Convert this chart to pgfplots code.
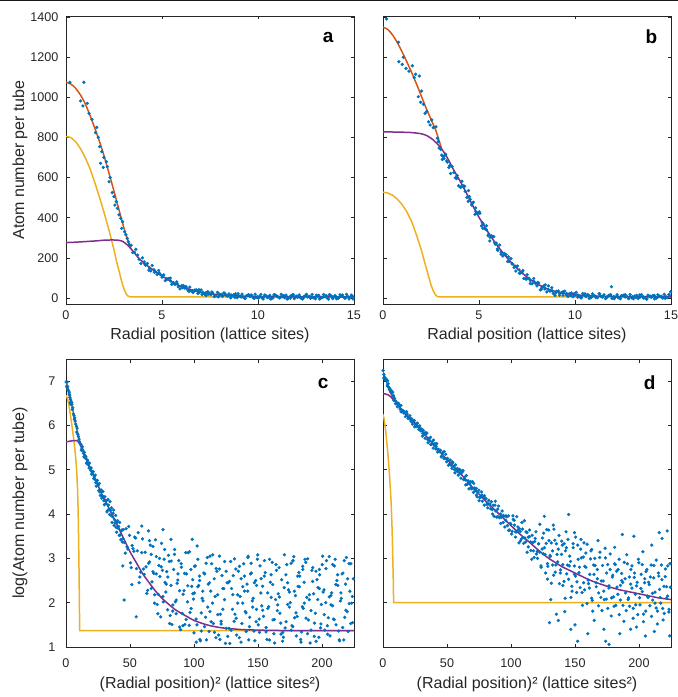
\documentclass[border=0pt]{standalone}
\usepackage{fontspec}
\setmainfont{Liberation Sans}
\usepackage{pgfplots}
\pgfplotsset{compat=1.18}
\definecolor{mblue}{RGB}{0,114,189}
\definecolor{mred}{RGB}{217,83,25}
\definecolor{myel}{RGB}{237,177,32}
\definecolor{mpur}{RGB}{126,47,142}
\definecolor{axg}{RGB}{38,38,38}
\tikzset{letter/.style={font=\fontsize{19}{22}\selectfont\bfseries, text=black}}
\pgfplotsset{
  panel/.style={scale only axis, width=288pt, height=288pt, anchor=south west,
    axis line style={axg, line width=0.7pt},
    every tick/.style={axg, line width=0.6pt},
    tick align=inside, major tick length=3.5pt,
    tick label style={font=\fontsize{12.6}{14}\selectfont, text=axg},
    label style={font=\fontsize{16}{19}\selectfont, text=axg},
    /pgf/number format/assume math mode=true,
    /pgf/number format/1000 sep={},
    xticklabel style={yshift=-3pt},
    yticklabel style={xshift=-4pt}},
  dots/.style={only marks, color=mblue, mark=*, mark size=1.45pt, mark options={fill=mblue, draw=none}},
  fitline/.style={no marks, line width=1.5pt}
}
\begin{document}
\begin{tikzpicture}[x=1pt,y=1pt]
\useasboundingbox (0,0) rectangle (678,697);
\fill[black!90] (0,695.5) rectangle (678,697);
% ---------------- panel a
\begin{axis}[panel, at={(66pt,393pt)}, xmin=0, xmax=15, ymin=-30, ymax=1405,
  xtick={0,5,10,15}, ytick={0,200,...,1400},
  xlabel={Radial position (lattice sites)}, ylabel={Atom number per tube},
  xlabel style={at={(axis description cs:0.5,-0.108)}, anchor=center},
  ylabel style={at={(axis description cs:-0.16,0.5)}, anchor=center}]
\addplot[dots] coordinates {(0.2,1075)(0.93,1075)(0.76,982)(0.88,957)(1.11,970)(1.2,920)(1.35,890)(1.54,824)(1.6,850)(1.68,800)(1.75,754)(1.86,729)(1.8,671)(1.94,651)(1.97,700)(2.1,679)(2.15,654)(2.24,579)(2.3,600)(2.41,525)(2.5,505)(2.55,463)(2.62,480)(2.67,447)(2.76,414)(2.85,397)(2.9,347)(2.95,380)(3.05,330)(3.12,315)(3.19,297)(3.25,280)
(3.30,265)(3.39,263)(3.47,226)(3.56,228)(3.64,243)(3.73,214)(3.81,193)(3.90,172)(3.98,200)(4.07,180)(4.15,163)(4.24,172)(4.32,138)(4.41,135)(4.49,162)(4.58,141)(4.66,131)(4.75,117)(4.83,137)(4.92,117)(5.00,104)(5.09,115)(5.17,86)(5.26,92)(5.34,97)(5.43,99)(5.51,68)(5.60,76)(5.68,68)(5.77,80)(5.85,56)(5.94,45)(6.02,61)(6.11,62)(6.19,49)(6.28,49)(6.36,36)(6.45,54)(6.53,35)(6.62,27)(6.70,39)(6.79,40)(6.87,22)(6.96,28)(7.04,40)(7.13,28)(7.21,19)(7.30,12)(7.38,32)(7.47,23)(7.55,16)(7.64,25)(7.72,7)(7.81,10)(7.89,28)(7.98,19)(8.06,15)(8.15,8)(8.23,26)(8.32,15)(8.40,9)(8.49,20)(8.57,1)(8.66,10)(8.74,16)(8.83,21)(8.91,1)(9.00,10)(9.08,7)(9.17,19)(9.25,3)(9.34,-2)(9.42,12)(9.51,16)(9.59,7)(9.68,10)(9.76,0)(9.85,19)(9.93,3)(10.02,-2)
(10.10,8)(10.19,2)(10.27,-5)(10.36,15)(10.44,9)(10.53,4)(10.61,13)(10.70,-3)(10.78,0)(10.87,17)(10.95,10)(11.04,6)(11.12,0)(11.21,18)(11.29,7)(11.38,2)(11.46,14)(11.55,-5)(11.63,4)(11.72,11)(11.80,16)(11.89,-3)(11.97,6)(12.06,3)(12.14,15)(12.23,0)(12.31,-5)(12.40,9)(12.48,13)(12.57,5)(12.65,8)(12.74,-2)(12.82,17)(12.91,1)(12.99,-4)(13.08,10)(13.16,13)(13.25,-3)(13.33,4)(13.42,17)(13.50,7)(13.59,1)(13.67,-6)(13.76,14)(13.84,8)(13.93,3)(14.01,12)(14.10,-4)(14.18,-1)(14.27,16)(14.35,9)(14.44,5)(14.52,-1)(14.61,18)(14.69,7)(14.78,2)(14.86,14)(14.95,-5)
(6.06,51)(6.24,57)(6.41,32)(6.58,36)(6.75,39)(6.92,41)(7.09,17)(7.26,25)(7.43,19)(7.60,30)(7.77,11)(7.94,6)(8.11,18)(8.28,21)(8.45,12)(8.62,14)(8.79,3)(8.96,21)(9.13,5)(9.30,-1)(9.47,13)(9.64,15)(9.81,-1)(9.98,6)(10.15,18)(10.32,8)(10.49,2)(10.66,-5)(10.83,15)(11.00,8)(11.17,3)(11.34,12)(11.51,-4)(11.68,-1)(11.85,16)(12.02,9)(12.19,5)(12.36,-1)(12.53,18)(12.70,7)(12.87,2)(13.04,14)(13.21,-5)(13.38,4)(13.55,11)(13.72,16)(13.89,-3)(14.06,6)(14.23,3)(14.40,15)(14.57,0)(14.74,-5)(14.91,9)
(4.1,170)(4.6,128)(5.05,110)(5.45,85)(5.8,70)(4.35,150)(4.85,125)(5.25,96)(5.65,72)};
\addplot[fitline, mred, smooth] coordinates {(0,1075)(0.25,1066)(0.5,1045)(0.75,1012)(1.0,968)(1.25,910)(1.5,846)(1.75,778)(2.0,702)(2.25,618)(2.5,532)(2.75,443)(3.0,355)(3.1,322)(3.2,293)(3.3,265)(3.38,246)};
\addplot[fitline, myel] coordinates {(0,805)(0.25,800)(0.5,779)(0.75,745)(1.0,700)(1.25,645)(1.5,575)(1.75,500)(2.0,420)(2.25,335)(2.5,240)(2.65,175)(2.75,140)(2.85,100)(2.95,65)(3.05,38)(3.15,18)(3.25,8)(3.35,6)(15,6)};
\addplot[fitline, mpur, smooth] coordinates {(0,276)(0.5,278)(1.0,281)(1.5,284)(2.0,288)(2.4,289)(2.7,288)(2.9,284)(3.0,279)(3.1,272)(3.2,264)(3.3,254)(3.4,243)(3.5,232)(3.6,220)(3.8,197)(4.0,180)(4.2,164)(4.4,149)(4.6,136)(4.8,123)(5.0,110)(5.25,95)(5.5,81)(5.75,68)(6.0,57)(6.25,48)(6.5,41)(6.75,34)(7.0,29)(7.5,21)(8.0,16)(8.5,12)(9.0,10)(9.5,8.5)(10,7.5)(11,6.5)(12,6)(15,6)};
\node[letter] at (rel axis cs:0.91,0.927) {a};
\end{axis}
% ---------------- panel b
\begin{axis}[panel, at={(383pt,393pt)}, xmin=0, xmax=15, ymin=-30, ymax=1405,
  xtick={0,5,10,15}, ytick={0,200,...,1400}, yticklabels={},
  xlabel={Radial position (lattice sites)},
  xlabel style={at={(axis description cs:0.5,-0.108)}, anchor=center}]
\addplot[dots] coordinates {(0.19,1390)(0.8,1274)(0.83,1177)(1.0,1164)(1.06,1199)(1.2,1144)(1.35,1130)(1.53,1157)(1.63,1098)(1.7,1115)(1.89,1106)(1.84,1003)(2.01,1031)(1.96,975)(2.1,965)(2.19,920)(2.28,930)(2.37,878)(2.45,862)(2.54,887)(2.62,849)(2.76,853)(2.83,796)(2.88,779)
(2.92,747)(3.01,740)(3.09,690)(3.18,694)(3.26,716)(3.35,677)(3.43,650)(3.52,620)(3.60,655)(3.69,625)(3.77,599)(3.86,610)(3.94,559)(4.03,551)(4.11,582)(4.20,552)(4.28,531)(4.37,501)(4.45,535)(4.54,492)(4.62,463)(4.71,477)(4.79,417)(4.88,423)(4.96,424)(5.05,422)(5.13,359)(5.22,368)(5.30,346)(5.39,360)(5.47,310)(5.56,284)(5.64,310)(5.73,306)(5.81,276)(5.90,273)(5.98,237)(6.07,264)(6.15,228)(6.24,209)(6.32,222)(6.41,216)(6.49,182)(6.58,182)(6.66,197)(6.75,170)(6.83,152)(6.92,134)(7.00,159)(7.09,140)(7.17,124)(7.26,131)(7.34,97)(7.43,95)(7.51,116)(7.60,98)(7.68,87)(7.77,71)(7.85,97)(7.94,73)(8.02,60)(8.11,75)(8.19,40)(8.28,52)(8.36,59)(8.45,65)(8.53,30)(8.62,41)(8.70,34)(8.79,51)(8.87,23)(8.96,13)(9.04,33)(9.13,35)(9.21,24)(9.30,27)(9.38,14)(9.47,34)(9.55,15)(9.64,8)(9.72,22)(9.81,25)(9.89,6)(9.98,12)(10.06,28)(10.15,15)(10.23,7)(10.32,0)(10.40,22)(10.49,13)(10.57,7)(10.66,17)(10.74,-2)(10.83,1)(10.91,21)(11.00,12)(11.08,8)(11.17,2)(11.25,21)(11.34,9)(11.42,4)(11.51,16)(11.59,-3)(11.68,6)(11.76,13)(11.85,17)(11.93,-2)(12.02,7)(12.10,4)(12.19,16)(12.27,1)(12.36,-4)(12.44,10)(12.53,14)(12.61,5)(12.70,8)(12.78,-2)(12.87,17)(12.95,1)(13.04,-4)(13.12,10)(13.21,13)(13.29,-3)(13.38,4)(13.46,17)(13.55,7)(13.63,1)(13.72,-6)(13.80,14)(13.89,8)(13.97,3)(14.06,12)(14.14,-4)(14.23,-1)(14.31,16)(14.40,9)(14.48,5)(14.57,-1)(14.65,18)(14.74,7)(14.82,2)(14.91,14)(14.98,31)
(4.06,553)(4.25,557)(4.44,481)(4.63,468)(4.82,449)(5.01,429)(5.20,347)(5.39,339)(5.58,302)(5.77,306)(5.96,244)(6.15,218)(6.34,219)(6.53,205)(6.72,170)(6.91,158)(7.10,123)(7.29,137)(7.48,94)(7.67,72)(7.86,82)(8.05,77)(8.24,43)(8.43,45)(8.62,60)(8.81,36)(9.00,25)(9.19,14)(9.38,31)(9.57,22)(9.76,14)(9.95,21)(10.14,4)(10.33,5)(10.52,21)(10.71,13)(10.90,8)(11.09,2)(11.28,21)(11.47,9)(11.66,4)(11.85,15)(12.04,-4)(12.23,5)(12.42,12)(12.61,16)(12.80,-3)(12.99,6)(13.18,3)(13.37,15)(13.56,0)(13.75,-5)(13.94,9)(14.13,13)(14.32,5)(14.51,8)(14.70,-2)(14.89,17)(11.9,56)
(3.13,705)(3.48,660)(3.83,595)(4.16,560)(4.5,505)(4.84,430)(5.17,375)(5.5,318)(5.85,268)(3.06,712)(3.23,712)(3.32,683)};
\addplot[fitline, mred, smooth] coordinates {(0,1349)(0.25,1338)(0.5,1310)(0.75,1272)(1.0,1225)(1.25,1175)(1.5,1122)(1.75,1065)(2.0,1005)(2.25,945)(2.5,890)(2.75,835)(2.88,796)(3.0,760)(3.05,745)};
\addplot[fitline, myel] coordinates {(0,527)(0.25,523)(0.5,512)(0.75,492)(1.0,465)(1.25,428)(1.5,380)(1.75,312)(2.0,238)(2.25,150)(2.5,65)(2.6,40)(2.7,20)(2.8,9)(2.9,6)(15,6)};
\addplot[fitline, mpur, smooth] coordinates {(0,828)(0.5,827)(1.0,826)(1.5,824)(2.0,818)(2.3,808)(2.6,789)(2.8,770)(3.0,750)(3.2,722)(3.4,690)(3.6,652)(3.8,618)(4.0,585)(4.25,540)(4.5,494)(4.75,446)(5.0,402)(5.25,362)(5.5,324)(5.75,288)(6.0,255)(6.25,225)(6.5,196)(6.75,170)(7.0,146)(7.25,124)(7.5,104)(7.75,87)(8.0,72)(8.25,59)(8.5,48)(8.75,39)(9.0,32)(9.5,22)(10,16)(10.5,12)(11,9.5)(12,7.5)(13,6.5)(14,6)(15,6)};
\node[letter] at (rel axis cs:0.932,0.927) {b};
\end{axis}
% ---------------- panel c
\begin{axis}[panel, at={(66pt,50pt)}, xmin=0, xmax=225, ymin=1, ymax=7.5,
  xtick={0,50,100,150,200}, ytick={1,2,3,4,5,6,7},
  xlabel={(Radial position)² (lattice sites²)}, ylabel={log(Atom number per tube)},
  xlabel style={at={(axis description cs:0.5,-0.128)}, anchor=center},
  ylabel style={at={(axis description cs:-0.16,0.5)}, anchor=center},
  xticklabel style={yshift=-5pt}, yticklabel style={xshift=-3pt}]
\addplot[dots] coordinates {(0.04,6.98)(0.86,6.98)(0.58,6.89)(0.77,6.86)(1.23,6.88)(1.44,6.82)(1.82,6.79)(2.37,6.71)(2.56,6.75)(2.82,6.68)(3.06,6.63)(3.46,6.59)(3.24,6.51)(3.76,6.48)(3.88,6.55)(4.41,6.52)(4.62,6.48)(5.02,6.36)(5.29,6.4)(5.81,6.26)(6.25,6.22)(6.5,6.14)(6.86,6.17)(7.13,6.1)(7.62,6.03)(8.12,5.98)(8.41,5.85)(8.7,5.94)(9.3,5.8)(9.73,5.75)(10.18,5.69)(10.56,5.63)
(11.2,5.59)(11.6,5.57)(12.0,5.44)(12.4,5.47)(12.8,5.52)(13.2,5.44)(13.6,5.37)(14.0,5.29)(14.4,5.39)(14.8,5.32)(15.2,5.26)(15.6,5.29)(16.0,5.15)(16.4,5.14)(16.8,5.22)(17.2,5.16)(17.6,5.11)(18.0,5.04)(18.4,5.15)(18.8,5.05)(19.2,4.99)(19.6,5.04)(20.0,4.90)(20.4,4.93)(20.8,4.94)(21.2,4.96)(21.6,4.80)(22.0,4.84)(22.4,4.79)(22.8,4.88)(23.2,4.71)(23.6,4.63)(24.0,4.75)(24.4,4.76)(24.8,4.65)(25.2,4.66)(25.6,4.53)(26.0,4.69)(26.4,4.50)(26.8,4.42)(27.2,4.54)(27.6,4.54)(28.0,4.36)(28.4,4.41)(28.8,4.51)(29.2,4.39)(29.6,4.30)(30.0,4.21)(30.4,4.39)(30.8,4.31)(31.2,4.24)(31.6,4.30)(32.0,4.05)(32.4,4.08)(32.8,4.33)(33.2,4.20)(33.6,4.11)(34.0,3.99)(34.4,4.28)(34.8,4.08)(35.2,3.97)(35.6,4.14)(36.0,3.81)(36.4,3.94)(36.8,4.02)(37.2,4.09)(37.6,3.74)(38.0,3.87)(38.4,3.80)(38.8,3.97)(39.2,3.70)(39.6,3.59)(40.0,3.81)(40.4,3.85)(40.8,3.68)(41.2,3.72)(41.6,3.52)(42.0,3.81)(42.4,3.53)(42.8,3.42)(43.2,3.62)(43.6,3.64)(44.0,3.37)(44.4,3.45)(44.8,3.65)
(45.6,3.36)(46.95,3.67)(48.3,3.21)(49.65,3.52)(51.0,2.79)(52.35,3.22)(53.7,3.48)(55.05,2.77)(56.4,3.58)(57.75,2.58)(59.1,3.13)(60.45,2.76)(61.8,3.14)(63.15,2.21)(64.5,2.89)(65.85,3.30)(67.2,2.47)(68.55,2.66)(69.9,3.42)(71.25,1.96)(72.6,2.84)(73.95,1.68)(75.3,2.73)(76.65,2.98)(78.0,2.24)(79.35,1.84)(80.7,2.93)(82.05,2.39)(83.4,1.81)(84.75,3.09)(86.1,2.06)(87.45,2.65)(88.8,1.45)(90.15,2.8)(91.5,2.19)(92.85,1.51)(94.2,2.65)(95.55,3.13)(96.9,1.78)(98.25,2.37)(99.6,2.08)(100.95,2.83)(102.3,1.5)(103.65,2.39)(105.0,1.14)(106.35,2.1)(107.7,2.67)(109.05,1.67)(110.4,3.02)(111.75,1.35)(113.1,2.26)(114.45,1.99)(115.8,2.54)(117.15,1.21)(118.5,2.18)(119.85,2.76)(121.2,1.58)(122.55,1.85)(123.9,2.93)(125.25,1.42)(126.6,2.45)(127.95,1.08)(129.3,2.32)(130.65,2.61)(132.0,1.74)(133.35,1.27)(134.7,2.71)(136.05,2.14)(137.4,1.53)(138.75,2.88)(140.1,1.8)(141.45,2.42)(142.8,1.16)(144.15,2.65)(145.5,2.04)(146.85,1.36)(148.2,2.5)(149.55,2.98)(150.9,1.63)(152.25,2.22)(153.6,2.37)(154.95,2.6)(156.3,1.34)(157.65,1.87)(159.0,2.98)(160.35,2.12)(161.7,1.61)(163.05,1.09)(164.4,2.73)(165.75,2.2)(167.1,1.76)(168.45,2.52)(169.8,1.22)(171.15,1.43)(172.5,2.86)(173.85,2.29)(175.2,2.0)(176.55,1.48)(177.9,3.04)(179.25,2.16)(180.6,1.69)(181.95,2.68)(183.3,1.17)(184.65,1.91)(186.0,2.46)(187.35,2.91)(188.7,1.3)(190.05,2.07)(191.4,1.82)(192.75,2.79)(194.1,1.54)(195.45,1.13)(196.8,2.34)(198.15,2.63)(199.5,1.96)(200.85,2.24)(202.2,1.38)(203.55,2.95)(204.9,1.66)(206.25,1.25)(207.6,2.22)(208.95,1.63)(210.3,2.98)(211.65,2.5)(213.0,1.36)(214.35,2.04)(215.7,2.65)(217.05,1.16)(218.4,2.42)(219.75,1.8)(221.1,2.88)(222.45,1.53)(223.8,2.14)
(46.3,3.12)(47.65,3.26)(49.0,3.72)(50.35,2.9)(51.7,3.29)(53.05,3.16)(54.4,3.46)(55.75,3.17)(57.1,2.45)(58.45,2.69)(59.8,3.44)(61.15,2.64)(62.5,2.81)(63.85,2.28)(65.2,3.4)(66.55,3.09)(67.9,2.7)(69.25,2.18)(70.6,3.04)(71.95,2.19)(73.3,2.59)(74.65,3.34)(76.0,2.02)(77.35,2.46)(78.7,2.7)(80.05,3.07)(81.4,1.71)(82.75,1.51)(84.1,2.75)(85.45,2.02)(86.8,2.44)(88.15,2.95)(89.5,1.39)(90.85,1.76)(92.2,2.27)(93.55,3.13)(94.9,2.02)(96.25,1.49)(97.6,2.75)(98.95,2.52)(100.3,2.22)(101.65,1.63)(103.0,2.98)(104.35,2.5)(105.7,1.36)(107.05,2.04)(108.4,2.65)(109.75,1.16)(111.1,2.42)(112.45,1.8)(113.8,2.88)(115.15,1.53)(116.5,2.14)(117.85,2.71)(119.2,1.27)(120.55,1.74)(121.9,2.61)(123.25,2.32)(124.6,1.08)(125.95,2.45)(127.3,1.42)(128.65,2.93)(130.0,1.85)(131.35,1.58)(132.7,2.76)(134.05,2.18)(135.4,1.21)(136.75,2.54)(138.1,1.99)(139.45,2.26)(140.8,1.35)(142.15,3.02)(143.5,1.67)(144.85,2.67)(146.2,2.1)(147.55,1.14)(148.9,2.39)(150.25,1.5)(151.6,2.83)(152.95,1.93)(154.3,1.69)(155.65,2.68)(157.0,1.17)(158.35,1.91)(159.7,2.46)(161.05,2.91)(162.4,1.3)(163.75,2.07)(165.1,1.82)(166.45,2.79)(167.8,1.54)(169.15,1.13)(170.5,2.34)(171.85,2.63)(173.2,1.96)(174.55,2.24)(175.9,1.38)(177.25,2.95)(178.6,1.66)(179.95,1.25)(181.3,2.37)(182.65,2.6)(184.0,1.34)(185.35,1.87)(186.7,2.98)(188.05,2.12)(189.4,1.61)(190.75,1.09)(192.1,2.73)(193.45,2.2)(194.8,1.76)(196.15,2.52)(197.5,1.22)(198.85,1.43)(200.2,2.86)(201.55,2.29)(202.9,2.0)(204.25,1.48)(205.6,3.04)(206.95,2.16)(208.3,1.93)(209.65,2.83)(211.0,1.5)(212.35,2.39)(213.7,1.14)(215.05,2.1)(216.4,2.67)(217.75,1.67)(219.1,3.02)(220.45,1.35)(221.8,2.26)(223.15,1.99)(224.5,2.54)
(65.3,2.92)(66.6,2.32)(67.9,3.27)(69.2,1.99)(70.5,2.65)(71.8,1.75)(73.1,3.0)(74.4,2.81)(75.7,2.14)(77.0,3.2)(78.3,2.42)(79.6,2.58)(80.9,1.53)(82.2,2.94)(83.5,1.95)(84.8,3.2)(86.1,1.75)(87.4,2.51)(88.7,2.27)(90.0,2.88)(91.3,1.48)(92.6,2.66)(93.9,1.62)(95.2,2.38)(96.5,3.15)(97.8,1.87)(99.1,2.2)(100.4,2.82)(101.7,1.11)(103.0,2.36)(104.3,2.6)(105.6,1.77)(106.9,2.26)(108.2,1.46)(109.5,2.89)(110.8,1.9)(112.1,2.45)(113.4,1.57)(114.7,3.08)(116.0,1.33)(117.3,2.77)(118.6,1.73)(119.9,3.05)(121.2,1.52)(122.5,2.32)(123.8,2.07)(125.1,2.71)(126.4,1.24)(127.7,2.48)(129.0,1.38)(130.3,2.18)(131.6,2.99)(132.9,1.65)(134.2,1.99)(135.5,2.82)(136.8,1.11)(138.1,2.36)(139.4,2.6)(140.7,1.77)(142.0,2.26)(143.3,1.46)(144.6,2.89)(145.9,1.9)(147.2,2.45)(148.5,1.57)(149.8,3.08)(151.1,1.33)(152.4,2.54)(153.7,1.83)(155.0,2.95)(156.3,1.44)(157.6,2.22)(158.9,1.16)(160.2,2.63)(161.5,2.41)(162.8,1.62)(164.1,2.86)(165.4,1.95)(166.7,2.13)(168.0,1.29)(169.3,1.33)(170.6,3.08)(171.9,1.57)(173.2,2.45)(174.5,1.9)(175.8,2.89)(177.1,1.46)(178.4,2.26)(179.7,1.77)(181.0,2.6)(182.3,2.36)(183.6,1.11)(184.9,2.82)(186.2,1.99)(187.5,1.65)(188.8,2.99)(190.1,2.18)(191.4,1.38)(192.7,2.48)(194.0,1.24)(195.3,2.71)(196.6,2.07)(197.9,2.32)(199.2,1.52)(200.5,3.05)(201.8,1.73)(203.1,2.77)(204.4,1.29)(205.7,2.13)(207.0,1.95)(208.3,2.86)(209.6,1.62)(210.9,2.41)(212.2,2.63)(213.5,1.16)(214.8,2.22)(216.1,1.44)(217.4,2.95)(218.7,1.83)(220.0,2.54)(221.3,1.98)(222.6,2.88)(223.9,1.55)
(59.2,3.73)(64.4,3.62)(75.8,3.65)(82,3.43)(98.6,3.43)(102.5,3.28)(112.5,3.05)(142.3,3.05)(177.3,2.94)(100,1.32)(104.6,1.17)(120.2,1.17)(54.8,1.68)(45.4,2.06)(51.4,2.41)(44.4,2.83)(148.8,1.85)(185,2.75)(198,2.75)};
\addplot[fitline, mred, smooth] coordinates {(0,6.98)(1,6.9)(2,6.76)(3,6.64)(4,6.52)(5,6.39)(6,6.26)(7,6.12)(8,5.98)(9,5.85)(10,5.72)(11,5.6)(11.5,5.55)};
\addplot[fitline, myel] coordinates {(0,6.68)(1,6.62)(2,6.5)(3,6.33)(4,6.13)(5,5.92)(6,5.7)(7,5.45)(8,5.12)(8.5,4.9)(9,4.58)(9.5,4.05)(9.8,3.5)(10.1,2.9)(10.4,2.2)(10.6,1.6)(10.75,1.37)(225,1.37)};
\addplot[fitline, mpur, smooth] coordinates {(0,5.63)(2,5.64)(4,5.65)(6,5.66)(8,5.66)(9,5.65)(10,5.62)(11,5.57)(12,5.5)(13,5.44)(14,5.37)(16,5.22)(18,5.09)(20,4.97)(22,4.84)(24,4.72)(26,4.58)(28,4.45)(30,4.33)(32,4.22)(34,4.1)(36,3.99)(38,3.87)(40,3.75)(42,3.63)(44,3.51)(46,3.39)(48,3.27)(50,3.15)(55,2.9)(60,2.65)(65,2.45)(70,2.26)(75,2.1)(80,1.97)(85,1.85)(90,1.76)(95,1.68)(100,1.6)(110,1.5)(120,1.44)(130,1.41)(140,1.39)(160,1.375)(180,1.37)(225,1.37)};
\node[letter] at (rel axis cs:0.893,0.916) {c};
\end{axis}
% ---------------- panel d
\begin{axis}[panel, at={(383pt,50pt)}, xmin=0, xmax=225, ymin=1, ymax=7.5,
  xtick={0,50,100,150,200}, ytick={1,2,3,4,5,6,7}, yticklabels={},
  xlabel={(Radial position)² (lattice sites²)},
  xlabel style={at={(axis description cs:0.5,-0.128)}, anchor=center},
  xticklabel style={yshift=-5pt}]
\addplot[dots] coordinates {(0.04,7.24)(0.64,7.15)(0.69,7.07)(1.0,7.06)(1.12,7.09)(1.44,7.04)(1.82,7.03)(2.34,7.05)(2.66,7.0)(2.89,7.02)(3.57,7.01)(3.39,6.91)(4.04,6.94)(3.84,6.88)(4.41,6.87)(4.8,6.82)(5.2,6.84)(5.62,6.78)(6.0,6.76)(6.45,6.79)(6.86,6.74)(7.62,6.75)(8.0,6.68)(8.29,6.66)
(8.4,6.57)(9.1,6.61)(9.8,6.49)(10.5,6.52)(11.2,6.42)(11.9,6.45)(12.6,6.47)(13.3,6.37)(14.0,6.45)(14.7,6.31)(15.4,6.34)(16.1,6.31)(16.8,6.31)(17.5,6.2)(18.2,6.24)(18.9,6.26)(19.6,6.16)(20.3,6.16)(21.0,6.22)(21.7,6.1)(22.4,6.15)(23.1,6.03)(23.8,6.11)(24.5,6.11)(25.2,6.03)(25.9,5.97)(26.6,6.05)(27.3,5.98)(28.0,5.91)(28.7,5.99)(29.4,5.88)(30.1,5.92)(30.8,5.76)(31.5,5.89)(32.2,5.8)(32.9,5.71)(33.6,5.81)(34.3,5.83)(35.0,5.68)(35.7,5.71)(36.4,5.66)(37.1,5.73)(37.8,5.57)(38.5,5.63)(39.2,5.49)(39.9,5.56)(40.6,5.59)(41.3,5.47)(42.0,5.59)(42.7,5.4)(43.4,5.46)(44.1,5.41)(44.8,5.44)(45.5,5.29)(46.2,5.36)(46.9,5.4)(47.6,5.25)(48.3,5.26)(49.0,5.35)(49.7,5.18)(50.4,5.26)(51.1,5.1)(51.8,5.21)(52.5,5.22)(53.2,5.1)(53.9,5.03)(54.6,5.16)(55.3,5.08)(56.0,5.0)(56.7,5.11)(57.4,4.98)(58.1,5.03)(58.8,4.88)(59.5,5.01)(60.2,4.92)(60.9,4.81)(61.6,4.94)(62.3,4.97)(63.0,4.78)(63.7,4.83)(64.4,4.77)(65.1,4.87)(65.8,4.67)(66.5,4.75)(67.2,4.57)(67.9,4.68)(68.6,4.73)(69.3,4.57)(70.0,4.73)(70.7,4.49)(71.4,4.59)(72.1,4.53)(72.8,4.58)(73.5,4.39)(74.2,4.49)(74.9,4.54)(75.6,4.37)(76.3,4.38)(77.0,4.5)(77.7,4.29)(78.4,4.4)(79.1,4.2)(79.8,4.35)(80.5,4.35)(81.2,4.22)(81.9,4.14)(82.6,4.31)(83.3,4.21)(84.0,4.12)(84.7,4.28)(85.4,4.1)(86.1,4.2)(86.8,3.95)(87.5,4.2)(88.2,4.07)(88.9,3.93)(89.6,4.11)(90.3,4.18)(91.0,3.92)(91.7,4.0)(92.4,3.93)(93.1,4.07)(93.8,3.81)(94.5,3.95)(95.2,3.71)(95.9,3.86)(96.6,3.94)(97.3,3.74)(98.0,3.96)(98.7,3.64)(99.4,3.79)
(10.0,6.55)(12.1,6.5)(14.2,6.31)(16.3,6.28)(18.4,6.31)(20.5,6.18)(22.6,6.08)(24.7,5.97)(26.8,6.05)(28.9,5.93)(31.0,5.82)(33.1,5.84)(35.2,5.61)(37.3,5.57)(39.4,5.67)(41.5,5.53)(43.6,5.43)(45.7,5.3)(47.8,5.41)(49.9,5.24)(52.0,5.13)(54.1,5.18)(56.2,4.93)(58.3,4.96)(60.4,4.99)(62.5,4.98)(64.6,4.66)(66.7,4.71)(68.8,4.6)(70.9,4.69)(73.0,4.43)(75.1,4.3)(77.2,4.43)(79.3,4.41)(81.4,4.25)(83.5,4.23)(85.6,4.0)(87.7,4.29)(89.8,3.94)(91.9,3.79)(94.0,3.97)(96.1,3.96)(98.2,3.63)
(100.0,3.77)(100.9,3.61)(101.8,3.88)(102.7,3.75)(103.6,3.48)(104.5,3.6)(105.4,3.71)(106.3,3.35)(107.2,3.61)(108.1,3.44)(109.0,3.66)(109.9,3.34)(110.8,3.46)(111.7,3.6)(112.6,3.14)(113.5,3.26)(114.4,3.49)(115.3,3.37)(116.2,2.98)(117.1,3.36)(118.0,3.02)(118.9,3.45)(119.8,3.1)(120.7,3.0)(121.6,3.33)(122.5,3.14)(123.4,2.83)(124.3,3.21)(125.2,3.1)(126.1,3.24)(127.0,2.67)(127.9,3.65)(128.8,2.82)(129.7,3.4)(130.6,3.04)(131.5,2.44)(132.4,3.17)(133.3,2.62)(134.2,3.41)(135.1,2.85)(136.0,3.09)(136.9,3.21)(137.8,2.43)(138.7,2.74)(139.6,3.39)(140.5,2.86)(141.4,2.48)(142.3,2.1)(143.2,3.24)(144.1,2.85)(145.0,2.53)(145.9,3.05)(146.8,2.12)(147.7,2.26)(148.6,3.24)(149.5,2.83)(150.4,2.6)(151.3,2.23)(152.2,3.3)(153.1,2.68)(154.0,2.34)(154.9,3.01)(155.8,1.94)(156.7,2.45)(157.6,2.82)(158.5,3.12)(159.4,1.98)(160.3,2.51)(161.2,2.33)(162.1,2.99)(163.0,2.1)(163.9,1.81)(164.8,2.64)(165.7,2.84)(166.6,2.36)(167.5,2.54)(168.4,1.93)(169.3,3.02)(170.2,2.12)(171.1,1.82)(172.0,2.49)(172.9,2.07)(173.8,3.01)(174.7,2.67)(175.6,1.87)(176.5,2.33)(177.4,2.75)(178.3,1.7)(179.2,2.58)(180.1,2.13)(181.0,2.88)(181.9,1.94)(182.8,2.35)(183.7,2.75)(184.6,1.73)(185.5,2.06)(186.4,2.66)(187.3,2.46)(188.2,1.58)(189.1,2.54)(190.0,1.82)(190.9,2.88)(191.8,2.11)(192.7,1.92)(193.6,2.75)(194.5,2.33)(195.4,1.65)(196.3,2.57)(197.2,2.19)(198.1,2.38)(199.0,1.73)(199.9,2.9)(200.8,1.95)(201.7,2.64)(202.6,2.25)(203.5,1.57)(204.4,2.45)(205.3,1.81)(206.2,2.75)(207.1,2.12)(208.0,2.41)(208.9,2.58)(209.8,1.69)(210.7,2.06)(211.6,2.84)(212.5,2.24)(213.4,1.88)(214.3,1.52)(215.2,2.67)(216.1,2.3)(217.0,1.99)(217.9,2.52)(218.8,1.61)(219.7,1.76)(220.6,2.76)(221.5,2.36)(222.4,2.15)(223.3,1.79)(224.2,2.88)
(100.5,3.55)(101.5,3.96)(102.5,3.86)(103.5,3.6)(104.5,3.94)(105.5,3.64)(106.5,3.67)(107.5,3.4)(108.5,3.81)(109.5,3.47)(110.5,3.85)(111.5,3.37)(112.5,3.58)(113.5,3.48)(114.5,3.64)(115.5,3.18)(116.5,3.52)(117.5,3.17)(118.5,3.38)(119.5,3.6)(120.5,3.16)(121.5,3.33)(122.5,3.77)(123.5,2.8)(124.5,3.46)(125.5,3.57)(126.5,3.09)(127.5,3.34)(128.5,2.88)(129.5,3.64)(130.5,3.07)(131.5,3.35)(132.5,2.85)(133.5,3.66)(134.5,2.69)(135.5,3.33)(136.5,2.92)(137.5,3.52)(138.5,2.67)(139.5,3.09)(140.5,2.39)(141.5,3.33)(142.5,3.17)(143.5,2.65)(144.5,3.43)(145.5,2.83)(146.5,2.93)(147.5,2.37)(148.5,3.33)(149.5,2.64)(150.5,3.48)(151.5,2.47)(152.5,2.98)(153.5,2.8)(154.5,3.21)(155.5,2.23)(156.5,3.03)(157.5,2.29)(158.5,2.8)(159.5,3.32)(160.5,2.43)(161.5,2.64)(162.5,3.17)(163.5,2.05)(164.5,2.85)(165.5,3.0)(166.5,2.45)(167.5,2.75)(168.5,2.22)(169.5,3.14)(170.5,2.49)(171.5,2.84)(172.5,2.26)(173.5,3.23)(174.5,2.08)(175.5,2.86)(176.5,2.38)(177.5,3.1)(178.5,2.11)(179.5,2.62)(180.5,1.92)(181.5,2.86)(182.5,2.71)(183.5,2.19)(184.5,2.98)(185.5,2.39)(186.5,2.5)(187.5,1.94)(188.5,2.91)(189.5,2.22)(190.5,3.08)(191.5,2.07)(192.5,2.58)(193.5,2.42)(194.5,2.83)(195.5,1.87)(196.5,2.67)(197.5,1.95)(198.5,2.46)(199.5,2.98)(200.5,2.11)(201.5,2.32)(202.5,2.86)(203.5,1.74)(204.5,2.54)(205.5,2.7)(206.5,2.15)(207.5,2.46)(208.5,1.93)(209.5,2.85)(210.5,2.21)(211.5,2.56)(212.5,1.99)(213.5,2.96)(214.5,1.81)(215.5,2.6)(216.5,2.12)(217.5,2.85)(218.5,1.87)(219.5,2.37)(220.5,2.59)(221.5,2.1)(222.5,2.83)(223.5,1.85)(224.5,2.35)
(128.5,2.53)(131,2.07)(130,1.55)(135.5,1.74)(145,3.99)(146.7,1.4)(152,1.13)(149.6,3.58)(154.7,3.43)(172.6,1.4)(174,1.13)(176.6,1.06)(187,3.54)(193.5,1.4)(205,1.25)(215.8,3.58)(222,3.62)(224,1.25)(140,3.3)(157,3.35)(163,3.2)(168,3.4)(181,3.25)(196,3.5)(203,3.15)(210,3.3)(218,3.45)(160,1.3)(165,1.6)(185,1.3)(198,1.45)(212,1.35)(137,1.6)(142,1.8)(150,1.5)(126,3.95)(133,3.75)(143,3.6)};
\addplot[fitline, mred, smooth] coordinates {(0,7.22)(1,7.14)(2,7.05)(3,6.96)(4,6.88)(5,6.8)(6,6.73)(7,6.66)(8,6.6)(8.5,6.57)};
\addplot[fitline, myel] coordinates {(0,6.25)(0.5,6.2)(1,6.12)(2,5.9)(3,5.62)(4,5.3)(5,4.92)(6,4.45)(6.5,4.15)(7,3.75)(7.5,3.2)(8,2.55)(8.3,2.0)(225,2.0)};
\addplot[fitline, mpur, smooth] coordinates {(0,6.72)(2,6.71)(4,6.69)(6,6.65)(8,6.58)(10,6.52)(12,6.45)(14,6.38)(16,6.31)(18,6.24)(20,6.18)(22,6.13)(24,6.08)(26,6.02)(28,5.95)(30,5.88)(32,5.81)(34,5.75)(36,5.68)(38,5.62)(40,5.55)(42,5.49)(44,5.42)(46,5.36)(48,5.29)(50,5.23)(55,5.08)(60,4.93)(65,4.77)(70,4.6)(75,4.45)(80,4.3)(85,4.16)(90,4.02)(95,3.88)(100,3.74)(105,3.6)(110,3.47)(115,3.35)(120,3.22)(125,3.1)(130,2.99)(135,2.9)(140,2.81)(145,2.74)(150,2.67)(155,2.6)(160,2.53)(165,2.47)(170,2.42)(175,2.37)(180,2.33)(185,2.29)(190,2.26)(195,2.23)(200,2.2)(205,2.17)(210,2.14)(215,2.11)(220,2.09)(225,2.07)};
\node[letter] at (rel axis cs:0.926,0.918) {d};
\end{axis}
\end{tikzpicture}
\end{document}
